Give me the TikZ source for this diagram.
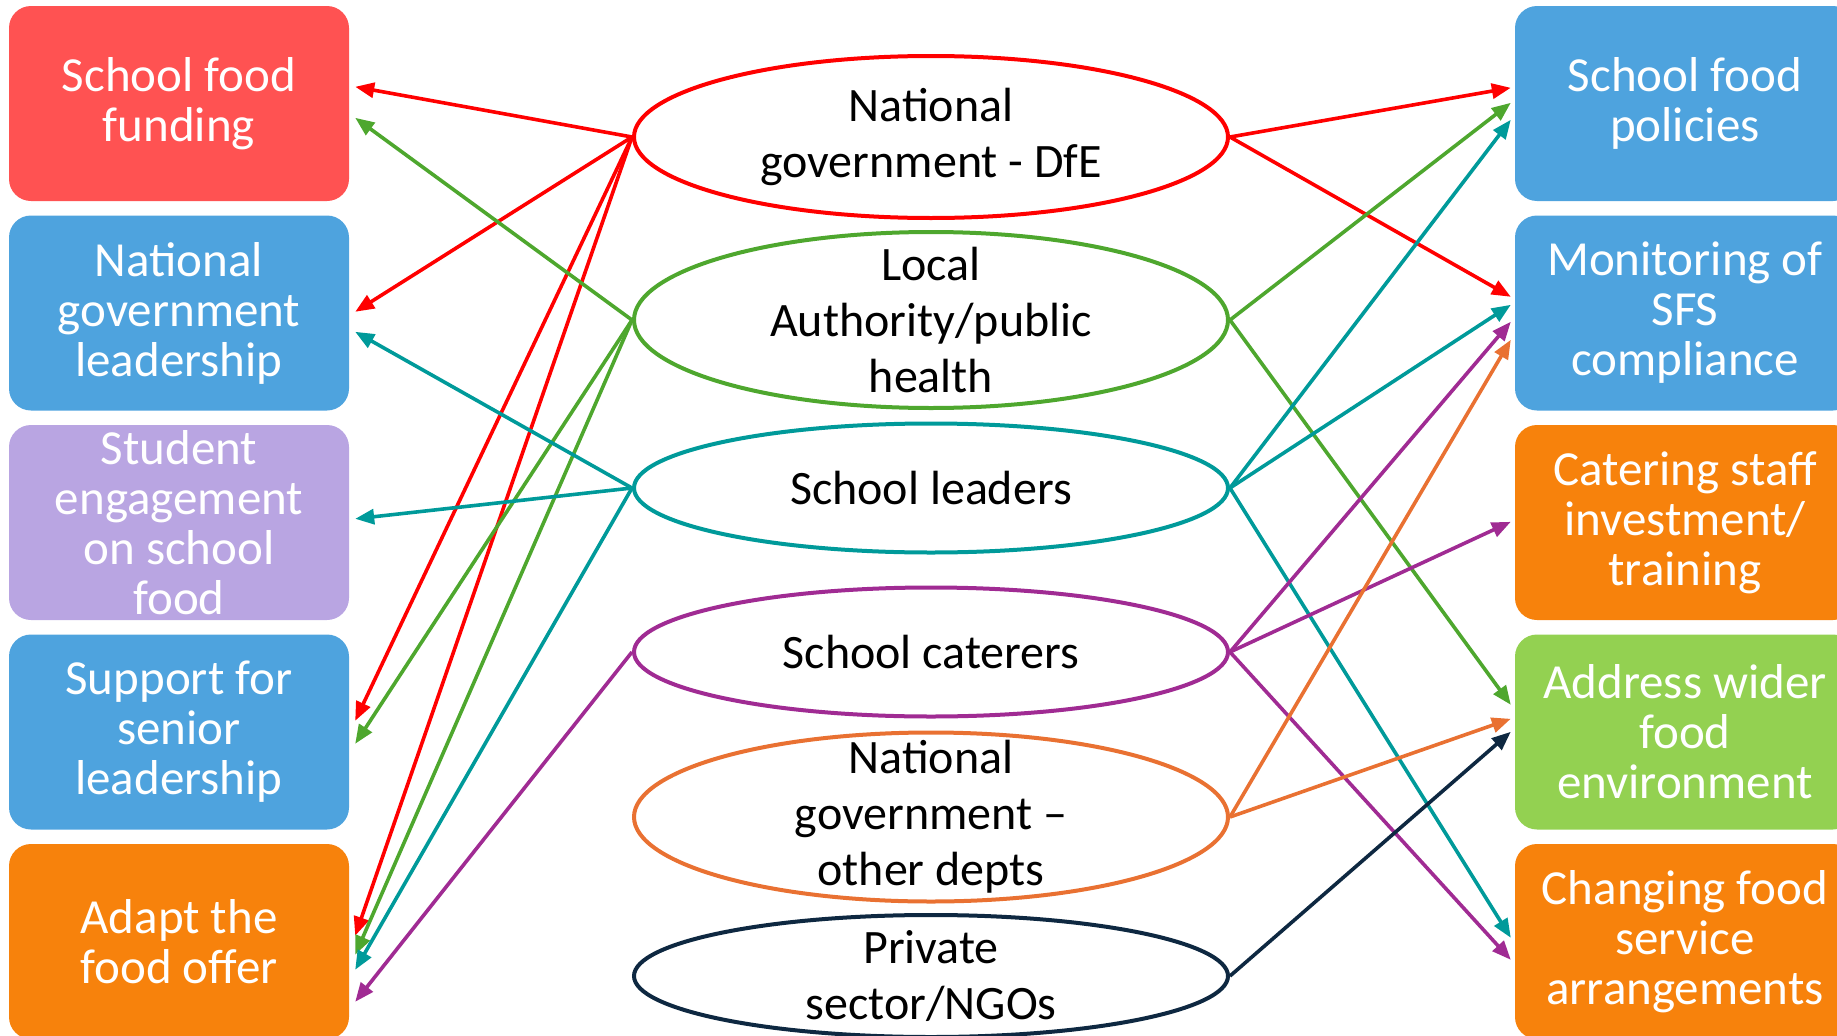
\documentclass[tikz,border=0pt]{standalone}
\usepackage{fontspec}
\setmainfont{Carlito}
\usetikzlibrary{shapes.geometric,arrows.meta}

% fills of the outcome boxes
\definecolor{boxRed}{HTML}{FF5252}
\definecolor{boxBlue}{HTML}{4EA3DE}
\definecolor{boxLilac}{HTML}{B9A5E2}
\definecolor{boxOrange}{HTML}{F7820C}
\definecolor{boxGreen}{HTML}{93D151}
% strokes of the actors and their links
\definecolor{lRed}{HTML}{FF0000}
\definecolor{lGreen}{HTML}{4EA72E}
\definecolor{lTeal}{HTML}{009A9A}
\definecolor{lPurple}{HTML}{A02B93}
\definecolor{lOrange}{HTML}{E97132}
\definecolor{lNavy}{HTML}{0E2841}

\begin{document}
\begin{tikzpicture}[x=1pt,y=-1pt,
  outbox/.style={rectangle, draw=none, rounded corners=22pt,
    minimum width=340pt, minimum height=195pt, inner sep=0pt},
  outtext/.style={text=white, align=center, inner sep=0pt,
    font=\fontsize{49}{50}\selectfont},
  actor/.style={ellipse, draw, fill=white, line width=4pt,
    minimum width=594pt, inner sep=0pt},
  actortext/.style={align=center, inner sep=0pt,
    font=\fontsize{48}{56}\selectfont},
  link/.style={line width=3.6pt, -{Triangle[length=19pt,width=15pt]}},
  redlink/.style={link, draw=lRed, fill=lRed},
  greenlink/.style={link, draw=lGreen, fill=lGreen},
  teallink/.style={link, draw=lTeal, fill=lTeal},
  purplelink/.style={link, draw=lPurple, fill=lPurple},
  orangelink/.style={link, draw=lOrange, fill=lOrange},
  navylink/.style={link, draw=lNavy, fill=lNavy},
]
\useasboundingbox (0,0) rectangle (1837,1036);
\clip (0,0) rectangle (1837,1036);

% ---- left column of outcomes
\node[outbox, fill=boxRed]    (fund)  at (179,103.5) {};
\node[outbox, fill=boxBlue]   (ngl)   at (179,313)   {};
\node[outbox, fill=boxLilac]  (stud)  at (179,522.5) {};
\node[outbox, fill=boxBlue]   (supp)  at (179,732)   {};
\node[outbox, fill=boxOrange] (adapt) at (179,941.5) {};

% ---- right column of outcomes
\node[outbox, fill=boxBlue]   (pol)  at (1685,103.5) {};
\node[outbox, fill=boxBlue]   (mon)  at (1685,313)   {};
\node[outbox, fill=boxOrange] (cat)  at (1685,522.5) {};
\node[outbox, fill=boxGreen]  (addr) at (1685,732)   {};
\node[outbox, fill=boxOrange] (chg)  at (1685,941.5) {};

\node[outtext] (tfund)  at (fund)  {School food\\funding};
\node[outtext] (tngl)   at (ngl)   {National\\government\\leadership};
\node[outtext] (tstud)  at (stud)  {Student\\engagement\\on school\\food};
\node[outtext] (tsupp)  at (supp)  {Support for\\senior\\leadership};
\node[outtext] (tadapt) at (adapt) {Adapt the\\food offer};
\node[outtext] (tpol)   at (pol)   {School food\\policies};
\node[outtext] (tmon)   at (mon)   {Monitoring of\\SFS\\compliance};
\node[outtext] (tcat)   at (cat)   {Catering staff\\investment/\\training};
\node[outtext] (taddr)  at (addr)  {Address wider\\food\\environment};
\node[outtext] (tchg)   at (chg)   {Changing food\\service\\arrangements};

% ---- actors
\node[actor, draw=lRed,    minimum height=162pt] (dfe)   at (931,137) {};
\node[actor, draw=lGreen,  minimum height=176pt] (la)    at (931,320) {};
\node[actor, draw=lTeal,   minimum height=129pt] (lead)  at (931,488) {};
\node[actor, draw=lPurple, minimum height=129pt] (cater) at (931,652) {};
\node[actor, draw=lOrange, minimum height=169pt] (ogd)   at (931,817) {};
\node[actor, draw=lNavy,   minimum height=122pt] (priv)  at (931,976) {};

% ---- links from each actor
\draw[redlink] (dfe.west) -- ([xshift=6pt,yshift=-81pt]fund.north east);
\draw[redlink] (dfe.west) -- ([xshift=6pt,yshift=-96.5pt]ngl.north east);
\draw[redlink] (dfe.west) -- ([xshift=6pt,yshift=-86.5pt]supp.north east);
\draw[redlink] (dfe.west) -- ([xshift=6pt,yshift=-92pt]adapt.north east);
\draw[redlink] (dfe.east) -- ([xshift=-4pt,yshift=-82pt]pol.north west);
\draw[redlink] (dfe.east) -- ([xshift=-4pt,yshift=-81.5pt]mon.north west);

\draw[greenlink] (la.west) -- ([xshift=6pt,yshift=-112pt]fund.north east);
\draw[greenlink] (la.west) -- ([xshift=6pt,yshift=-109.5pt]supp.north east);
\draw[greenlink] (la.west) -- ([xshift=6pt,yshift=-111pt]adapt.north east);
\draw[greenlink] (la.east) -- ([xshift=-4pt,yshift=-97pt]pol.north west);
\draw[greenlink] (la.east) -- ([xshift=-4pt,yshift=-70.5pt]addr.north west);

\draw[teallink] (lead.west) -- ([xshift=6pt,yshift=-116.5pt]ngl.north east);
\draw[teallink] (lead.west) -- ([xshift=6pt,yshift=-94pt]stud.north east);
\draw[teallink] (lead.west) -- ([xshift=6pt,yshift=-126pt]adapt.north east);
\draw[teallink] (lead.east) -- ([xshift=-4pt,yshift=-114pt]pol.north west);
\draw[teallink] (lead.east) -- ([xshift=-4pt,yshift=-89.5pt]mon.north west);
\draw[teallink] (lead.east) -- ([xshift=-4pt,yshift=-94pt]chg.north west);

\draw[purplelink] (cater.west) -- ([xshift=6pt,yshift=-158pt]adapt.north east);
\draw[purplelink] (cater.east) -- ([xshift=-4pt,yshift=-106.5pt]mon.north west);
\draw[purplelink] (cater.east) -- ([xshift=-4pt,yshift=-97pt]cat.north west);
\draw[purplelink] (cater.east) -- ([xshift=-4pt,yshift=-116pt]chg.north west);

\draw[orangelink] (ogd.east) -- ([xshift=-4pt,yshift=-124.5pt]mon.north west);
\draw[orangelink] (ogd.east) -- ([xshift=-4pt,yshift=-84.5pt]addr.north west);

\draw[navylink] (priv.east) -- ([xshift=-4pt,yshift=-97.5pt]addr.north west);

% ---- actor labels
\node[actortext] (tdfe)   at (dfe)   {National\\government - DfE};
\node[actortext] (tla)    at (la)    {Local\\Authority/public\\health};
\node[actortext] (tlead)  at (lead)  {School leaders};
\node[actortext] (tcater) at (cater) {School caterers};
\node[actortext] (togd)   at (ogd)   {National\\government --\\other depts};
\node[actortext] (tpriv)  at (priv)  {Private\\sector/NGOs};
\end{tikzpicture}
\end{document}
